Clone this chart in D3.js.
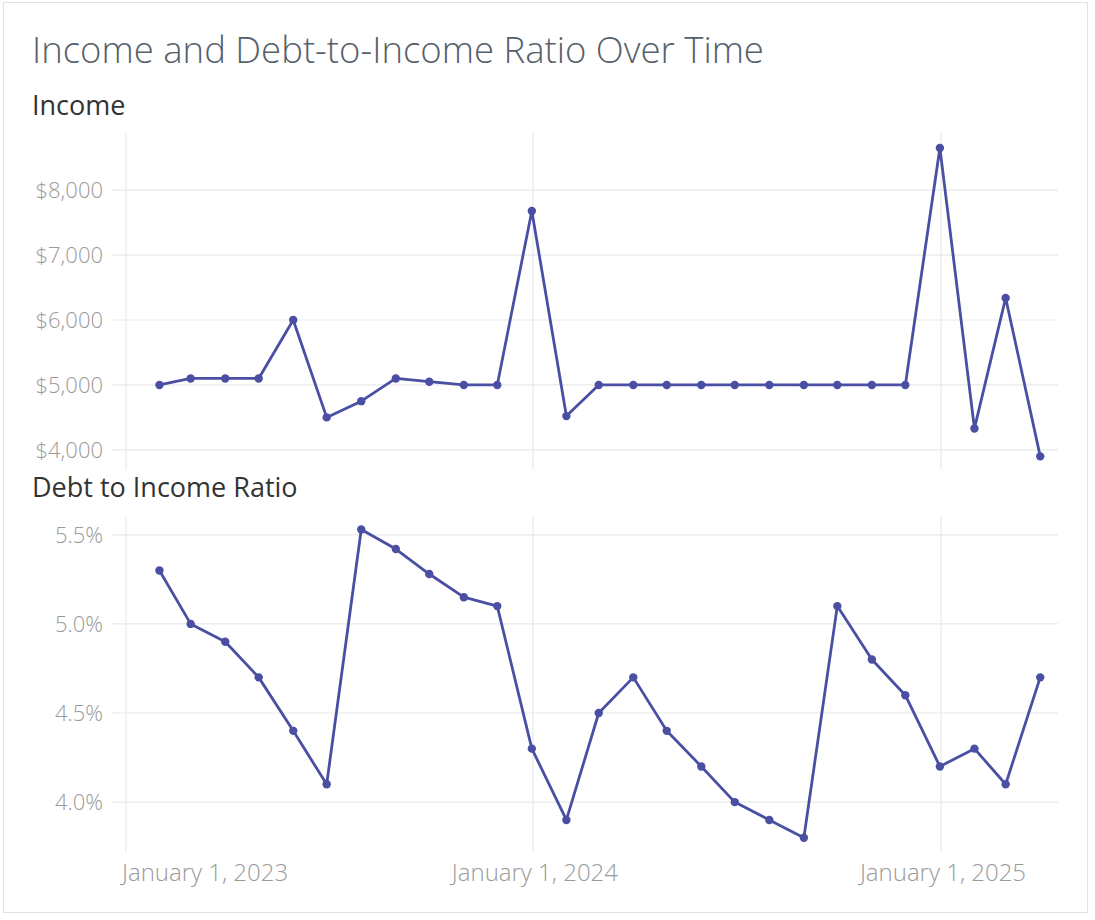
<!DOCTYPE html>
<html>
<head>
<meta charset="utf-8">
<script src="https://cdn.jsdelivr.net/npm/d3@7"></script>
<style>
  html, body { margin: 0; padding: 0; background: #fff; }
  svg { display: block; font-family: "Segoe UI", "Open Sans", "Noto Sans", sans-serif; }
</style>
</head>
<body>
<div id="chart"></div>
<script>
// Monthly observations (end of month)
var months = [
  '2023-01-31', '2023-02-28', '2023-03-31', '2023-04-30', '2023-05-31', '2023-06-30',
  '2023-07-31', '2023-08-31', '2023-09-30', '2023-10-31', '2023-11-30', '2023-12-31',
  '2024-01-31', '2024-02-29', '2024-03-31', '2024-04-30', '2024-05-31', '2024-06-30',
  '2024-07-31', '2024-08-31', '2024-09-30', '2024-10-31', '2024-11-30', '2024-12-31',
  '2025-01-31', '2025-02-28', '2025-03-31'
];
var income = [
  5000, 5100, 5100, 5100, 6000, 4500, 4750, 5100, 5050, 5000, 5000, 7680,
  4520, 5000, 5000, 5000, 5000, 5000, 5000, 5000, 5000, 5000, 5000, 8650,
  4330, 6340, 3900
];
var debtRatio = [
  5.30, 5.00, 4.90, 4.70, 4.40, 4.10, 5.53, 5.42, 5.28, 5.15, 5.10, 4.30,
  3.90, 4.50, 4.70, 4.40, 4.20, 4.00, 3.90, 3.80, 5.10, 4.80, 4.60, 4.20,
  4.30, 4.10, 4.70
];
var incomeTicks = [4000, 5000, 6000, 7000, 8000];
var ratioTicks = [4.0, 4.5, 5.0, 5.5];
var yearTicks = ['2023-01-01', '2024-01-01', '2025-01-01'];

(function () {
  'use strict';

  var W = 1095, H = 920;
  var lineColor = '#4a4fa3';
  var gridColor = '#e9e9e9';
  var tickColor = '#9a9a9a';

  var parse = d3.timeParse('%Y-%m-%d');
  var dates = months.map(parse);
  var years = yearTicks.map(parse);

  var svg = d3.select('#chart').append('svg')
    .attr('width', W)
    .attr('height', H);

  // card border
  svg.append('rect')
    .attr('x', 3.5).attr('y', 2.5)
    .attr('width', 1084).attr('height', 910)
    .attr('fill', 'none')
    .attr('stroke', '#e2e2e2');

  // shared x scale
  var x = d3.scaleTime()
    .domain([years[0], years[2]])
    .range([126, 941]);
  var gridLeft = 112, gridRight = 1058;

  // title + panel headings
  svg.append('text')
    .attr('x', 32).attr('y', 63)
    .attr('fill', '#56606b')
    .attr('font-size', 36.5)
    .attr('font-weight', 300)
    .text('Income and Debt-to-Income Ratio Over Time');

  svg.append('text')
    .attr('x', 32).attr('y', 115)
    .attr('fill', '#333')
    .attr('font-size', 27)
    .attr('font-weight', 500)
    .text('Income');

  svg.append('text')
    .attr('x', 32).attr('y', 497)
    .attr('fill', '#333')
    .attr('font-size', 27)
    .attr('font-weight', 500)
    .text('Debt to Income Ratio');

  function panel(values, yScale, ticks, fmt, top, bottom) {
    var g = svg.append('g');

    // horizontal gridlines
    g.selectAll('line.h')
      .data(ticks)
      .join('line')
      .attr('class', 'h')
      .attr('x1', gridLeft).attr('x2', gridRight)
      .attr('y1', function (d) { return yScale(d); })
      .attr('y2', function (d) { return yScale(d); })
      .attr('stroke', gridColor)
      .attr('stroke-width', 1.2);

    // vertical gridlines at year starts
    g.selectAll('line.v')
      .data(years)
      .join('line')
      .attr('class', 'v')
      .attr('x1', function (d) { return x(d); })
      .attr('x2', function (d) { return x(d); })
      .attr('y1', top).attr('y2', bottom)
      .attr('stroke', gridColor)
      .attr('stroke-width', 1.2);

    // y tick labels
    g.selectAll('text.yt')
      .data(ticks)
      .join('text')
      .attr('class', 'yt')
      .attr('x', 103)
      .attr('y', function (d) { return yScale(d); })
      .attr('dy', '0.35em')
      .attr('text-anchor', 'end')
      .attr('fill', tickColor)
      .attr('font-size', 22)
      .attr('font-weight', 300)
      .text(fmt);

    var line = d3.line()
      .x(function (d, i) { return x(dates[i]); })
      .y(function (d) { return yScale(d); });

    g.append('path')
      .datum(values)
      .attr('d', line)
      .attr('fill', 'none')
      .attr('stroke', lineColor)
      .attr('stroke-width', 2.8)
      .attr('stroke-linejoin', 'round');

    g.selectAll('circle')
      .data(values)
      .join('circle')
      .attr('cx', function (d, i) { return x(dates[i]); })
      .attr('cy', function (d) { return yScale(d); })
      .attr('r', 4.2)
      .attr('fill', lineColor);
  }

  var yIncome = d3.scaleLinear().domain([3690, 8880]).range([470, 133]);
  var yRatio = d3.scaleLinear().domain([3.72, 5.6]).range([852, 517]);

  panel(income, yIncome, incomeTicks, function (d) { return '$' + d3.format(',')(d); }, 133, 470);
  panel(debtRatio, yRatio, ratioTicks, function (d) { return d3.format('.1f')(d) + '%'; }, 517, 852);

  // x axis labels (first one kept inside the plot)
  var fmtDate = d3.timeFormat('%B %-d, %Y');
  svg.selectAll('text.xt')
    .data(years)
    .join('text')
    .attr('class', 'xt')
    .attr('x', function (d, i) { return i === 0 ? x(d) - 4 : x(d) + 2; })
    .attr('y', 881)
    .attr('text-anchor', function (d, i) { return i === 0 ? 'start' : 'middle'; })
    .attr('fill', tickColor)
    .attr('font-size', 24)
    .attr('font-weight', 300)
    .text(fmtDate);
})();
</script>
</body>
</html>
